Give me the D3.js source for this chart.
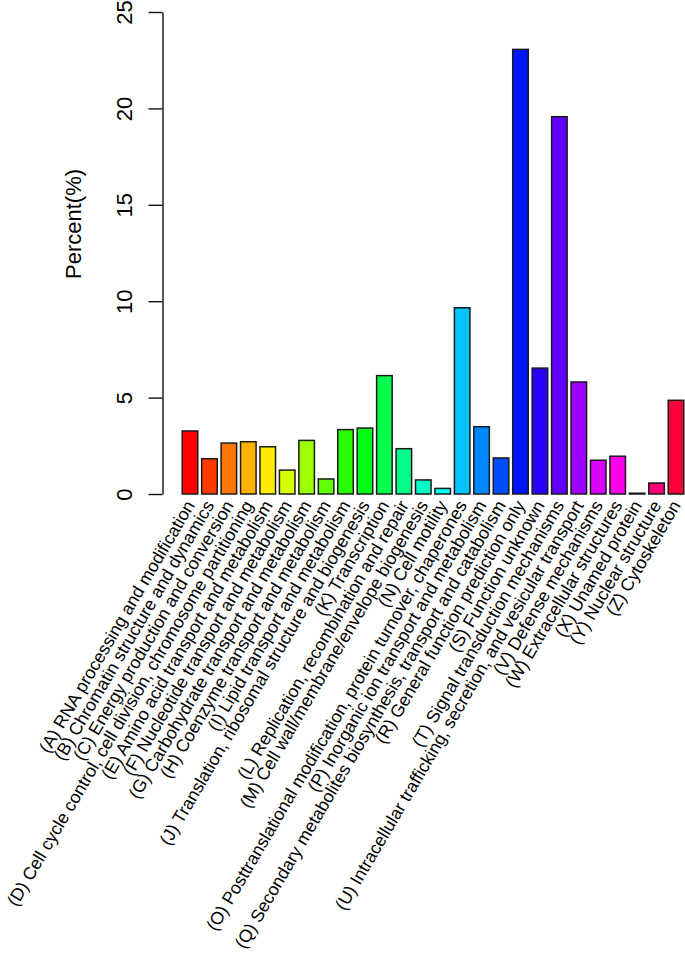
<!DOCTYPE html>
<html>
<head>
<meta charset="utf-8">
<script src="https://cdn.jsdelivr.net/npm/d3@7"></script>
<style>
  html, body { margin: 0; padding: 0; background: #fff; }
  svg { display: block; font-family: "Liberation Sans", Arial, Helvetica, sans-serif; }
</style>
</head>
<body>
<svg id="chart" width="685" height="956"></svg>
<script>
const categories = [
  "(A) RNA processing and modification",
  "(B) Chromatin structure and dynamics",
  "(C) Energy production and conversion",
  "(D) Cell cycle control, cell division, chromosome partitioning",
  "(E) Amino acid transport and metabolism",
  "(F) Nucleotide transport and metabolism",
  "(G) Carbohydrate transport and metabolism",
  "(H) Coenzyme transport and metabolism",
  "(I) Lipid transport and metabolism",
  "(J) Translation, ribosomal structure and biogenesis",
  "(K) Transcription",
  "(L) Replication, recombination and repair",
  "(M) Cell wall/membrane/envelope biogenesis",
  "(N) Cell motility",
  "(O) Posttranslational modification, protein turnover, chaperones",
  "(P) Inorganic ion transport and metabolism",
  "(Q) Secondary metabolites biosynthesis, transport and catabolism",
  "(R) General function prediction only",
  "(S) Function unknown",
  "(T) Signal transduction mechanisms",
  "(U) Intracellular trafficking, secretion, and vesicular transport",
  "(V) Defense mechanisms",
  "(W) Extracellular structures",
  "(X) Unamed protein",
  "(Y) Nuclear structure",
  "(Z) Cytoskeleton"
];
const percents = [3.27, 1.83, 2.64, 2.71, 2.45, 1.24, 2.78, 0.78, 3.34, 3.42, 6.14, 2.35, 0.73,
                  0.29, 9.66, 3.49, 1.87, 23.06, 6.53, 19.57, 5.81, 1.75, 1.96, 0.04, 0.57, 4.86];
const yTicks = [0, 5, 10, 15, 20, 25];
const yLabel = "Percent(%)";

const svg = d3.select("#chart");
const n = categories.length;
// R-style rainbow(n) palette
const colors = categories.map((c, i) => d3.hsl(360 * i / n, 1, 0.5).formatHex());

const step = 19.44;
const x0 = 190 - step / 2;
const x = d3.scaleBand().domain(categories).range([x0, x0 + n * step])
  .paddingInner(0.2).paddingOuter(0.1);
const y = d3.scaleLinear().domain([0, 25]).range([494, 12]);

// bars
svg.append("g").selectAll("rect").data(categories).join("rect")
  .attr("x", d => x(d))
  .attr("width", x.bandwidth())
  .attr("y", (d, i) => y(percents[i]))
  .attr("height", (d, i) => y(0) - y(percents[i]))
  .attr("fill", (d, i) => colors[i])
  .attr("stroke", "#1a1a1a")
  .attr("stroke-width", 1.5);

// y axis
const yAxis = d3.axisLeft(y).tickValues(yTicks).tickSize(14).tickSizeOuter(0).tickFormat(d3.format("d"));
const ga = svg.append("g").attr("transform", "translate(162.5,0)").call(yAxis);
ga.select(".domain").attr("stroke", "#111").attr("stroke-width", 1.4);
ga.selectAll(".tick line").attr("stroke", "#111").attr("stroke-width", 1.4);
ga.selectAll(".tick text")
  .attr("x", null).attr("dy", null)
  .attr("transform", "translate(-31,0) rotate(-90)")
  .attr("text-anchor", "middle")
  .attr("fill", "#000")
  .style("font-size", "22px")
  .style("font-family", "'Liberation Sans', Arial, sans-serif");

// y label
svg.append("text")
  .attr("transform", "translate(81,224) rotate(-90)")
  .attr("text-anchor", "middle")
  .attr("fill", "#000")
  .style("font-size", "22px")
  .text(yLabel);

// category labels
svg.append("g").selectAll("text").data(categories).join("text")
  .attr("transform", d => `translate(${x(d) + x.bandwidth() / 2},502) rotate(-59.5)`)
  .attr("text-anchor", "end")
  .attr("dy", "0.35em")
  .attr("fill", "#000")
  .style("font-size", "17.7px")
  .text(d => d);
</script>
</body>
</html>
